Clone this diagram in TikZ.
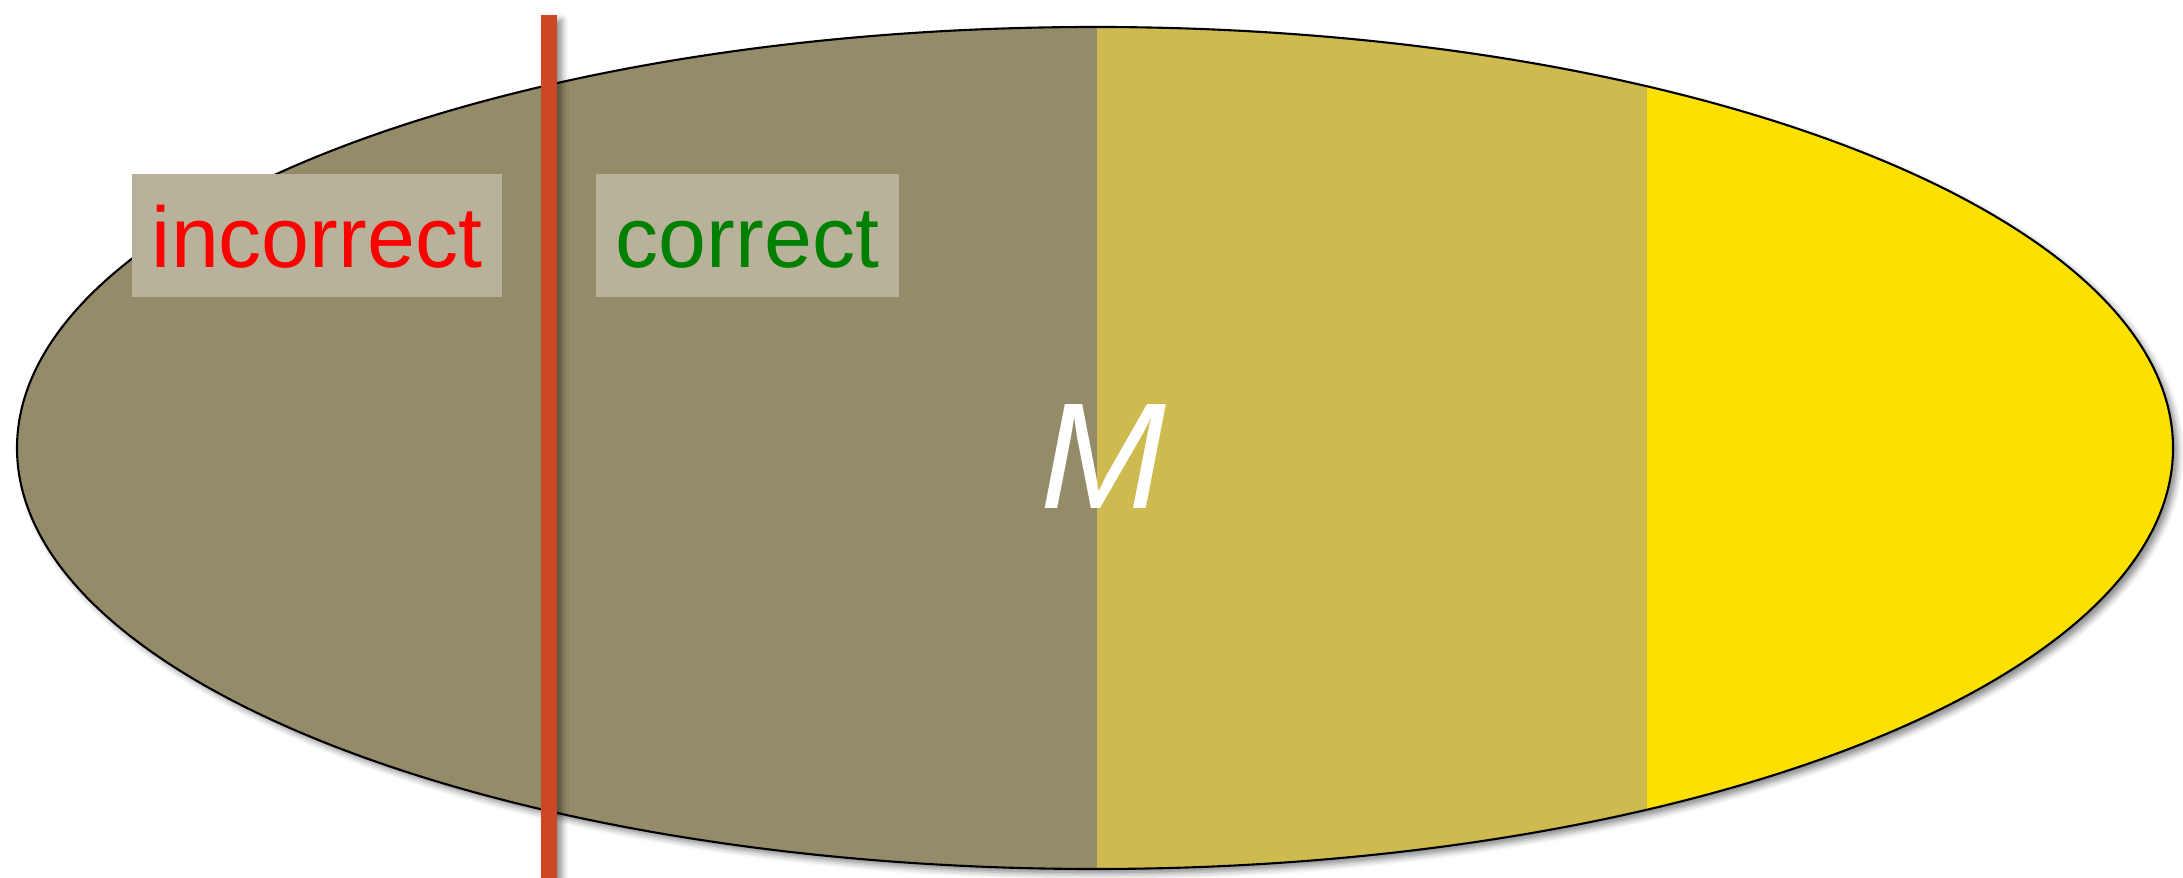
\documentclass[tikz,border=0pt]{standalone}
\usepackage{fontspec}
\setsansfont{Liberation Sans}
\usetikzlibrary{shadows.blur}

\definecolor{drab}{RGB}{148,140,104}
\definecolor{ochre}{RGB}{206,186,78}
\definecolor{lemon}{RGB}{252,225,0}
\definecolor{tagfill}{RGB}{183,178,153}
\definecolor{cutred}{RGB}{204,72,36}
\definecolor{okgreen}{RGB}{0,128,0}

\begin{document}
\begin{tikzpicture}[
            every node/.style={font=\sffamily},
            tag/.style={
                rectangle,
                fill=tagfill,
                inner sep=0pt,
                minimum height=1.23cm,
                text height=0.64cm,
                text depth=0cm,
                font=\sffamily\fontsize{24.5}{30}\selectfont
            },
            soft/.style={
                blur shadow={shadow xshift=0.05cm, shadow yshift=-0.05cm,
                    shadow blur radius=0.06cm, shadow opacity=45}
            }
        ]
        \useasboundingbox (0,0) rectangle (21.83,8.78);

        % Set M
        \fill[white, soft] (10.95,4.30) ellipse [x radius=10.78, y radius=4.21];
        \begin{scope}
            \clip (10.95,4.30) ellipse [x radius=10.78, y radius=4.21];
            \fill[drab] (0,0) rectangle (10.97,8.78);
            \fill[ochre] (10.97,0) rectangle (16.47,8.78);
            \fill[lemon] (16.47,0) rectangle (21.83,8.78);
        \end{scope}
        \draw[line width=0.6pt] (10.95,4.30) ellipse [x radius=10.78, y radius=4.21];

        % Cut
        \fill[cutred, soft] (5.41,0) rectangle (5.57,8.63);

        % Labels
        \node[tag, minimum width=3.70cm, text=red] (wrong) at (3.17,6.425) {incorrect};
        \node[tag, minimum width=3.03cm, text=okgreen] (right) at (7.475,6.425) {correct};

        \node[anchor=base, text=white, font=\sffamily\itshape\fontsize{43}{50}\selectfont]
            (set) at (11.03,3.69) {M};

        \end{tikzpicture}
\end{document}
